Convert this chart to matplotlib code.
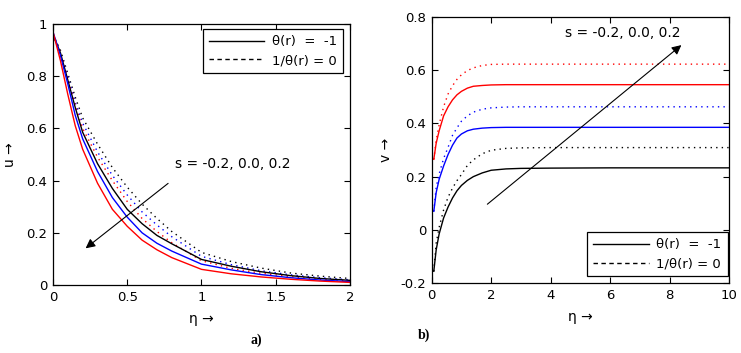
import numpy as np
import matplotlib
matplotlib.use('Agg')
import matplotlib.pyplot as plt
from matplotlib.lines import Line2D

plt.rcParams['font.family'] = ['DejaVu Sans']

# ---- panel a) u vs eta ----
eta_a = [0, 0.05, 0.1, 0.15, 0.2, 0.3, 0.4, 0.5, 0.6, 0.7, 0.8, 1.0, 1.2, 1.4, 1.6, 1.8, 2.0]
u_red = [0.97, 0.86, 0.73, 0.61, 0.52, 0.39, 0.29, 0.225, 0.172, 0.135, 0.105, 0.060, 0.043, 0.031, 0.022, 0.015, 0.010]
u_blue = [0.97, 0.88, 0.77, 0.65, 0.56, 0.435, 0.335, 0.26, 0.20, 0.16, 0.13, 0.08, 0.058, 0.040, 0.028, 0.019, 0.013]
u_black = [0.96, 0.89, 0.785, 0.68, 0.585, 0.465, 0.37, 0.29, 0.235, 0.19, 0.158, 0.098, 0.072, 0.051, 0.036, 0.025, 0.018]
u_red_d = [0.96, 0.89, 0.79, 0.69, 0.60, 0.49, 0.40, 0.32, 0.255, 0.205, 0.162, 0.093, 0.064, 0.045, 0.032, 0.022, 0.016]
u_blue_d = [0.96, 0.89, 0.80, 0.70, 0.62, 0.51, 0.42, 0.345, 0.28, 0.23, 0.185, 0.11, 0.078, 0.055, 0.039, 0.028, 0.020]
u_black_d = [0.96, 0.90, 0.81, 0.72, 0.64, 0.54, 0.45, 0.375, 0.31, 0.255, 0.205, 0.125, 0.09, 0.065, 0.046, 0.034, 0.025]

# ---- panel b) v vs eta ----
eta_b = [0.07, 0.15, 0.25, 0.4, 0.55, 0.7, 0.85, 1.0, 1.2, 1.4, 1.7, 2.0, 2.5, 3, 4, 6, 8, 10]
v_black = [-0.155, -0.075, -0.015, 0.045, 0.086, 0.12, 0.147, 0.167, 0.186, 0.2, 0.214, 0.224, 0.229, 0.231, 0.232, 0.233, 0.233, 0.233]
v_black_d = [-0.155, -0.05, 0.01, 0.075, 0.123, 0.157, 0.185, 0.208, 0.242, 0.263, 0.286, 0.299, 0.306, 0.308, 0.309, 0.309, 0.309, 0.309]
v_blue = [0.07, 0.14, 0.19, 0.24, 0.283, 0.318, 0.345, 0.36, 0.372, 0.378, 0.382, 0.384, 0.385, 0.385, 0.385, 0.385, 0.385, 0.385]
v_blue_d = [0.07, 0.16, 0.21, 0.268, 0.31, 0.355, 0.383, 0.408, 0.428, 0.442, 0.453, 0.458, 0.461, 0.462, 0.462, 0.462, 0.462, 0.462]
v_red = [0.265, 0.325, 0.372, 0.428, 0.462, 0.488, 0.507, 0.52, 0.532, 0.539, 0.542, 0.544, 0.545, 0.545, 0.545, 0.545, 0.545, 0.545]
v_red_d = [0.265, 0.335, 0.395, 0.462, 0.51, 0.541, 0.565, 0.582, 0.598, 0.608, 0.617, 0.621, 0.622, 0.622, 0.622, 0.622, 0.622, 0.622]

s_label = 's = -0.2, 0.0, 0.2'
leg_labels = ['\u03b8(r)  =  -1', '1/\u03b8(r) = 0']

dot = (0, (1, 3))
fs = 9.5

fig = plt.figure(figsize=(7.41, 3.53), dpi=100)
ax1 = fig.add_axes([0.0715, 0.1926, 0.4008, 0.7394])
ax2 = fig.add_axes([0.5826, 0.1975, 0.4012, 0.7552])

for ax in (ax1, ax2):
    ax.tick_params(direction='in', top=True, right=True, labelsize=fs, length=4, width=0.8, pad=4)
    for sp in ax.spines.values():
        sp.set_linewidth(0.9)

# panel a
ax1.plot(eta_a, u_black_d, color='k', lw=1, ls=dot)
ax1.plot(eta_a, u_blue_d, color='b', lw=1, ls=dot)
ax1.plot(eta_a, u_red_d, color='r', lw=1, ls=dot)
ax1.plot(eta_a, u_black, color='k', lw=1)
ax1.plot(eta_a, u_blue, color='b', lw=1)
ax1.plot(eta_a, u_red, color='r', lw=1)
ax1.set_xlim(0, 2)
ax1.set_ylim(0, 1)
ax1.set_xticks([0, 0.5, 1, 1.5, 2])
ax1.set_xticklabels(['0', '0.5', '1', '1.5', '2'])
ax1.set_yticks([0, 0.2, 0.4, 0.6, 0.8, 1])
ax1.set_yticklabels(['0', '0.2', '0.4', '0.6', '0.8', '1'])
ax1.set_xlabel('\u03b7 \u2192', fontsize=10, labelpad=6)
ax1.set_ylabel('u \u2192', fontsize=10, labelpad=7)
ax1.annotate('', xy=(0.205, 0.134), xytext=(0.79, 0.396),
             arrowprops=dict(arrowstyle='-|>', color='k', lw=0.8, mutation_scale=14))
ax1.text(0.824, 0.464, s_label, fontsize=10, va='center', ha='left')

# panel b
ax2.plot(eta_b, v_black_d, color='k', lw=1, ls=dot)
ax2.plot(eta_b, v_blue_d, color='b', lw=1, ls=dot)
ax2.plot(eta_b, v_red_d, color='r', lw=1, ls=dot)
ax2.plot(eta_b, v_black, color='k', lw=1)
ax2.plot(eta_b, v_blue, color='b', lw=1)
ax2.plot(eta_b, v_red, color='r', lw=1)
ax2.set_xlim(0, 10)
ax2.set_ylim(-0.2, 0.8)
ax2.set_xticks([0, 2, 4, 6, 8, 10])
ax2.set_yticks([-0.2, 0, 0.2, 0.4, 0.6, 0.8])
ax2.set_yticklabels(['-0.2', '0', '0.2', '0.4', '0.6', '0.8'])
ax2.set_xlabel('\u03b7 \u2192', fontsize=10, labelpad=6)
ax2.set_ylabel('v \u2192', fontsize=10, labelpad=5)
ax2.annotate('', xy=(8.47, 0.70), xytext=(1.8, 0.09),
             arrowprops=dict(arrowstyle='-|>', color='k', lw=0.8, mutation_scale=14))
ax2.text(4.49, 0.738, s_label, fontsize=10, va='center', ha='left')

handles = [Line2D([], [], color='k', lw=1),
           Line2D([], [], color='k', lw=1, ls=(0, (3.2, 2.5)))]
leg1 = ax1.legend(handles, leg_labels, loc='upper right', fontsize=fs, handlelength=4.2,
                  handletextpad=0.6, fancybox=False, framealpha=1, edgecolor='k',
                  bbox_to_anchor=(0.978, 0.98), borderaxespad=0, borderpad=0.45,
                  labelspacing=0.45)
leg2 = ax2.legend(handles, leg_labels, loc='lower right', fontsize=fs, handlelength=4.2,
                  handletextpad=0.6, fancybox=False, framealpha=1, edgecolor='k',
                  bbox_to_anchor=(0.995, 0.027), borderaxespad=0, borderpad=0.45,
                  labelspacing=0.45)
for leg in (leg1, leg2):
    leg.get_frame().set_linewidth(0.9)

fig.text(250 / 741, 1 - 340 / 353, 'a)', fontsize=10, fontweight='bold',
         family='Liberation Serif', ha='left', va='center')
fig.text(418 / 741, 1 - 335 / 353, 'b)', fontsize=10, fontweight='bold',
         family='Liberation Serif', ha='left', va='center')

fig.savefig('out.png', dpi=100)
